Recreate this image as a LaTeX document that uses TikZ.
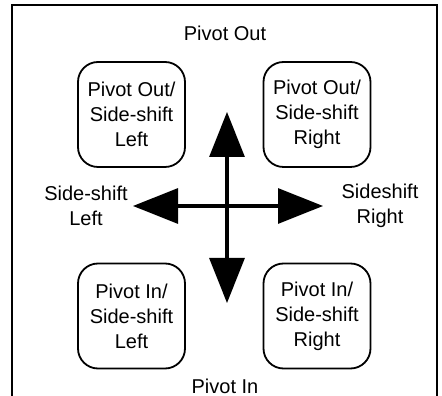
\documentclass[tikz,border=0pt]{standalone}
\usepackage{fontspec}
\setmainfont{Liberation Sans}
\usetikzlibrary{positioning}
\usetikzlibrary{arrows.meta}

\begin{document}
\begin{tikzpicture}[x=1pt,y=1pt,
    mode/.style={draw, line width=1.8pt, rounded corners=20pt, minimum width=107pt,
      minimum height=105pt, align=center, inner sep=0pt, font=\fontsize{20}{25}\selectfont},
    dir/.style={align=center, font=\fontsize{20}{25}\selectfont},
    move/.style={line width=3.2pt, {Triangle[length=45pt,width=35pt]}-{Triangle[length=45pt,width=35pt]}}]
    \useasboundingbox (0,0) rectangle (442,396);

    % frame, open at the bottom
    \draw[line width=2.6pt] (12,0) -- (12,391) -- (437,391) -- (437,0);

    % four combined modes
    \node[mode] (outleft) at (131.5,281.5) {Pivot Out/\\Side-shift\\Left};
    \node[mode] (outright) at (317,281.5) {Pivot Out/\\Side-shift\\Right};
    \node[mode] (inleft) at (131.5,80) {Pivot In/\\Side-shift\\Left};
    \node[mode] (inright) at (317,80) {Pivot In/\\Side-shift\\Right};

    % direction labels
    \node[dir] (out) at (225,363) {Pivot Out};
    \node[dir] (in) at (225,10) {Pivot In};
    \node[dir] (left) at (86,190) {Side-shift\\Left};
    \node[dir] (right) at (380,190) {Sideshift\\Right};

    % arrow ends
    \coordinate (up) at (227,284);
    \coordinate (down) at (227,93);
    \coordinate (west) at (133,190);
    \coordinate (east) at (323,190);

    \draw[move] (down) -- (up);
    \draw[move] (west) -- (east);
\end{tikzpicture}
\end{document}
